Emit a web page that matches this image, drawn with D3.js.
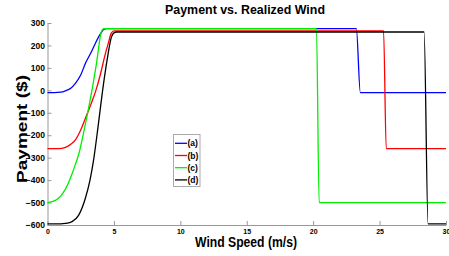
<!DOCTYPE html>
<html><head><meta charset="utf-8">
<script src="https://cdn.jsdelivr.net/npm/d3@7"></script>
<style>
html,body{margin:0;padding:0;background:#fff;}
svg{display:block;font-family:"Liberation Sans",Arial,sans-serif;}
</style></head>
<body>
<svg id="chart" width="449" height="256"></svg>
<script>
// ---- data ----
const seriesNames = ["(a)", "(b)", "(c)", "(d)"];
const seriesColors = ["#0000ff", "#ff0000", "#00ee00", "#000000"];

const windA = [0, 0.5, 1.0, 1.35, 1.75, 2.1, 2.5, 2.85, 3.25, 3.6, 3.95, 4.25, 4.45, 23.25, 23.55, 30];
const payA  = [-10, -10, -8, -2, 9, 31, 68, 120, 165, 209, 248, 272, 275, 275, -10, -10];

const windB = [0, 0.85, 1.35, 1.75, 2.1, 2.5, 2.85, 3.35, 3.65, 4.0, 4.3, 4.6, 4.8, 5.0, 25.3, 25.5, 30];
const payB  = [-260, -260, -254, -240, -221, -177, -125, -50, 1, 75, 150, 215, 255, 265, 265, -260, -260];

const windC = [0, 0.6, 1.0, 1.35, 1.6, 1.85, 2.1, 2.35, 2.8, 3.3, 3.7, 4.05, 4.25, 20.25, 20.45, 30];
const payC  = [-500, -490, -470, -440, -410, -372, -330, -285, -165, -15, 125, 260, 275, 275, -500, -500];

const windD = [0, 1.0, 1.35, 1.85, 2.35, 2.85, 3.2, 3.45, 3.8, 4.15, 4.5, 4.8, 5.0, 5.2, 28.35, 28.65, 30];
const payD  = [-595, -595, -593, -585, -556, -481, -400, -318, -165, 0, 140, 235, 256, 260, 260, -595, -595];

const xTicks = [0, 5, 10, 15, 20, 25, 30];
const yTicks = [-600, -500, -400, -300, -200, -100, 0, 100, 200, 300];

const titleText = "Payment vs. Realized Wind";
const xLabelText = "Wind Speed (m/s)";
const yLabelText = "Payment ($)";

// ---- drawing ----
const svg = d3.select("#chart");
const x = d3.scaleLinear().domain([0, 30]).range([47.5, 446]);
const y = d3.scaleLinear().domain([-600, 300]).range([225, 23]);

const series = [
  {name: seriesNames[0], color: seriesColors[0], xs: windA, ys: payA},
  {name: seriesNames[1], color: seriesColors[1], xs: windB, ys: payB},
  {name: seriesNames[2], color: seriesColors[2], xs: windC, ys: payC},
  {name: seriesNames[3], color: seriesColors[3], xs: windD, ys: payD}
];

const axisColor = "#999";

// axes
const gx = svg.append("g").attr("transform", `translate(0,${y(-600)})`)
  .call(d3.axisBottom(x).tickValues(xTicks).tickSizeInner(-4).tickSizeOuter(0).tickPadding(4));
const gy = svg.append("g").attr("transform", `translate(${x(0)},0)`)
  .call(d3.axisLeft(y).tickValues(yTicks).tickSizeInner(-4).tickSizeOuter(0).tickPadding(2.5));
[gx, gy].forEach(g => {
  g.select(".domain").attr("stroke", axisColor).attr("stroke-width", 1);
  g.selectAll(".tick line").attr("stroke", axisColor);
  g.selectAll(".tick text").attr("fill", "#000").attr("font-weight", "bold")
    .attr("font-family", "Liberation Sans, Arial, sans-serif");
});
gx.selectAll(".tick text").attr("font-size", 7);
gy.selectAll(".tick text").attr("font-size", 8.5);

// lines
const line = d3.line().x(d => x(d[0])).y(d => y(d[1])).curve(d3.curveMonotoneX);
series.forEach(s => {
  const pts = s.xs.map((v, i) => [v, s.ys[i]]);
  svg.append("path").datum(pts)
    .attr("fill", "none").attr("stroke", s.color).attr("stroke-width", 1.3)
    .attr("d", line);
});

// legend
const lg = svg.append("g");
lg.append("rect").attr("x", 173.5).attr("y", 134.5).attr("width", 26.5).attr("height", 52)
  .attr("fill", "#fff").attr("stroke", "#aaa").attr("stroke-width", 1);
series.forEach((s, i) => {
  const yy = 143.3 + i * 12.2;
  lg.append("line").attr("x1", 175).attr("x2", 187).attr("y1", yy).attr("y2", yy)
    .attr("stroke", s.color).attr("stroke-width", 1.3);
  lg.append("text").attr("x", 187.5).attr("y", yy + 3).attr("font-size", 8.5)
    .attr("font-weight", "bold").text(s.name);
});

// title and labels
svg.append("text").attr("x", 245).attr("y", 14).attr("text-anchor", "middle")
  .attr("font-size", 13).attr("font-weight", "bold")
  .attr("textLength", 160).attr("lengthAdjust", "spacingAndGlyphs").text(titleText);
svg.append("text").attr("x", 246).attr("y", 247).attr("text-anchor", "middle")
  .attr("font-size", 14).attr("font-weight", "bold")
  .attr("textLength", 102).attr("lengthAdjust", "spacingAndGlyphs").text(xLabelText);
svg.append("text").attr("transform", "translate(26.5,129) rotate(-90)").attr("text-anchor", "middle")
  .attr("font-size", 14.5).attr("font-weight", "bold")
  .attr("textLength", 108).attr("lengthAdjust", "spacingAndGlyphs").text(yLabelText);
</script>
</body></html>
